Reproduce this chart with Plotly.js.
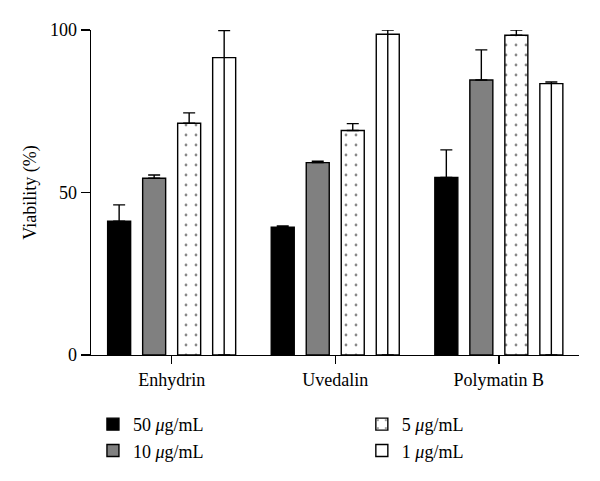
<!DOCTYPE html>
<html>
<head>
<meta charset="utf-8">
<script src="https://cdn.plot.ly/plotly-3.0.1.min.js"></script>
<style>html,body{margin:0;padding:0;background:#fff;}#chart{width:600px;height:481px;}</style>
</head>
<body>
<div id="chart"></div>
<script>
var categories = ['Enhydrin', 'Uvedalin', 'Polymatin B'];
var seriesNames = ['50 <i>μ</i>g/mL', '10 <i>μ</i>g/mL', '5 <i>μ</i>g/mL', '1 <i>μ</i>g/mL'];
var v50 = [41.2, 39.3, 54.6];
var e50 = [5.0, 0.4, 8.5];
var v10 = [54.4, 59.2, 84.6];
var e10 = [1.0, 0.4, 9.3];
var v5 = [71.3, 69.1, 98.4];
var e5 = [3.2, 2.1, 1.6];
var v1 = [91.5, 98.7, 83.5];
var e1 = [8.3, 1.3, 0.5];
var yTicks = [0, 50, 100];

var font = 'Liberation Serif, Times New Roman, serif';

function errBar(up, down) {
  return {type: 'data', symmetric: false, array: up, arrayminus: down,
          color: '#000', thickness: 1.4, width: 6};
}
var zeros = [0, 0, 0];
var line = {color: '#000', width: 1.4};

var traces = [
  {type: 'bar', name: seriesNames[0], x: categories, y: v50, legend: 'legend',
   marker: {color: '#000', line: line}, error_y: errBar(e50, zeros)},
  {type: 'bar', name: seriesNames[1], x: categories, y: v10, legend: 'legend',
   marker: {color: '#808080', line: line}, error_y: errBar(e10, zeros)},
  {type: 'bar', name: seriesNames[2], x: categories, y: v5, legend: 'legend2',
   marker: {color: '#fff', line: line,
            pattern: {shape: '.', size: 10, solidity: 0.06, fgcolor: '#111', bgcolor: '#fff', fillmode: 'overlay'}},
   error_y: errBar(e5, zeros)},
  {type: 'bar', name: seriesNames[3], x: categories, y: v1, legend: 'legend2',
   marker: {color: '#fff', line: line}, error_y: errBar(e1, v1)}
];

var legendFont = {family: font, size: 18, color: '#000'};
var layout = {
  width: 600, height: 481,
  margin: {l: 91, r: 21, t: 30, b: 126},
  paper_bgcolor: '#fff', plot_bgcolor: '#fff',
  font: {family: font, size: 18, color: '#000'},
  barmode: 'group', bargap: 0.144, bargroupgap: 0.343,
  showlegend: true,
  legend: {orientation: 'v', x: 0.004, xanchor: 'left', xref: 'paper',
           y: 0.156, yanchor: 'top', yref: 'container',
           traceorder: 'normal', font: legendFont},
  legend2: {orientation: 'v', x: 0.555, xanchor: 'left', xref: 'paper',
           y: 0.156, yanchor: 'top', yref: 'container',
           traceorder: 'normal', font: legendFont},
  xaxis: {range: [-0.493, 2.49], showline: true, linecolor: '#000', linewidth: 1.4,
          ticks: 'outside', ticklen: 8, tickwidth: 1.4, tickcolor: '#000',
          showgrid: false, zeroline: false, fixedrange: true, automargin: false},
  yaxis: {range: [0, 100], tickvals: yTicks, ticktext: yTicks.map(String),
          showline: true, linecolor: '#000', linewidth: 1.4,
          ticks: 'outside', ticklen: 9, tickwidth: 1.4, tickcolor: '#000',
          showgrid: false, zeroline: false, fixedrange: true, automargin: false,
          title: {text: 'Viability (%)', standoff: 8, font: {family: font, size: 18}}}
};

Plotly.newPlot('chart', traces, layout, {displayModeBar: false, staticPlot: true});
</script>
</body>
</html>
